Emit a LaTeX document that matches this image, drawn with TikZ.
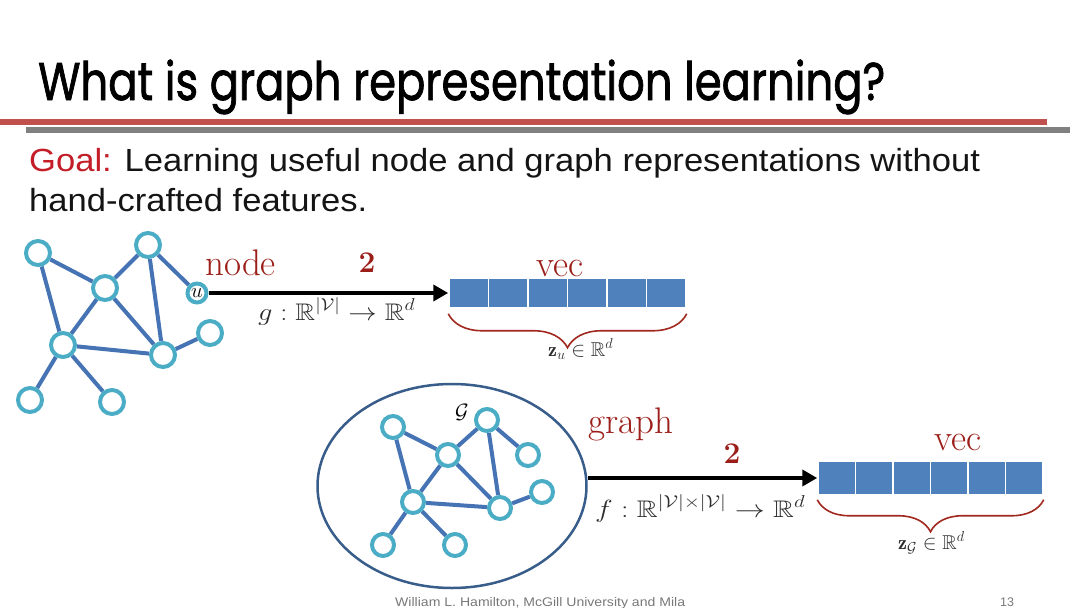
\documentclass[tikz,border=0pt]{standalone}
\usepackage{fontspec}
\usepackage{amsmath,amssymb}
\usepackage{graphicx}
\newfontfamily\titlefont[FakeBold=1.6]{Poppins}
\newfontfamily\arialfont{Liberation Sans}
\usetikzlibrary{arrows.meta,shapes.geometric,decorations.pathreplacing,backgrounds}
\definecolor{barred}{RGB}{192,80,77}
\definecolor{bargray}{RGB}{128,128,128}
\definecolor{goalred}{RGB}{195,30,40}
\definecolor{labred}{RGB}{155,30,25}
\definecolor{ringteal}{RGB}{75,172,198}
\definecolor{edgeblue}{RGB}{70,115,180}
\definecolor{vecblue}{RGB}{79,129,189}
\definecolor{ellblue}{RGB}{56,93,138}
\definecolor{bracered}{RGB}{160,40,30}
\definecolor{mathgray}{RGB}{45,45,45}
\definecolor{footgray}{RGB}{120,120,120}
\definecolor{goaltext}{RGB}{20,20,20}
\tikzset{
  gnode/.style={circle, draw=ringteal, line width=4pt, fill=white, minimum size=24pt, inner sep=0pt},
  gnodesm/.style={gnode, minimum size=22pt},
  gedge/.style={draw=edgeblue, line width=4pt},
  cellA/.style={rectangle, fill=vecblue, draw=white, line width=1.5pt, minimum width=39.5pt, minimum height=30pt, inner sep=0pt},
  cellB/.style={cellA, minimum width=37.5pt, minimum height=34pt},
  bigarrow/.style={draw=black, line width=4.5pt, -{Triangle[length=15pt,width=16pt]}},
  redlab/.style={text=labred, inner sep=0pt, font=\fontsize{37}{40}\selectfont},
  twolab/.style={text=labred, inner sep=0pt, font=\fontsize{30}{34}\selectfont\bfseries},
  mathlab/.style={text=mathgray, inner sep=0pt},
  curly/.style={draw=bracered, line width=1.6pt, decorate},
  txt/.style={inner sep=0pt, anchor=base west}
}
\begin{document}
\begin{tikzpicture}[x=1pt, y=-1pt]
\useasboundingbox (0,0) rectangle (1080,608);
% title
\node[txt] (title) at (38,100) {\resizebox{847pt}{\height}{\titlefont\fontsize{53}{60}\selectfont What is graph representation learning?}};
\fill[barred] (0,119) rectangle (1047,125);
\fill[bargray] (26,127) rectangle (1070,133);
% goal text
\node[txt, text=goaltext] (goal1) at (29,171) {\resizebox{951pt}{\height}{\arialfont\fontsize{32}{36}\selectfont\textcolor{goalred}{Goal:} Learning useful node and graph representations without}};
\node[txt, text=goaltext] (goal2) at (29,211) {\resizebox{338pt}{\height}{\arialfont\fontsize{32}{36}\selectfont hand-crafted features.}};
% graph 1
\node[gnode] (n1) at (38,253) {};
\node[gnode] (n2) at (148,245) {};
\node[gnode] (n3) at (105,288) {};
\node[gnode, minimum size=19pt] (u) at (197,293) {\fontsize{20}{22}\selectfont$u$};
\node[gnode] (n5) at (63,345) {};
\node[gnode] (n6) at (163,355) {};
\node[gnode] (n7) at (210,333) {};
\node[gnode] (n8) at (30,400) {};
\node[gnode] (n9) at (112,402) {};
\begin{scope}[on background layer]
\draw[gedge] (n1) -- (n3); \draw[gedge] (n2) -- (n3); \draw[gedge] (n2) -- (u);
\draw[gedge] (n2) -- (n6); \draw[gedge] (n3) -- (n5); \draw[gedge] (n3) -- (n6);
\draw[gedge] (n1) -- (n5); \draw[gedge] (n5) -- (n6); \draw[gedge] (n6) -- (n7);
\draw[gedge] (n5) -- (n8); \draw[gedge] (n5) -- (n9);
\end{scope}
% vector 1
\foreach \i in {1,...,6} {
  \node[cellA] (a\i) at ({449+19.75+(\i-1)*39.5},293) {};
}
\draw[bigarrow] (u) -- (a1.west);
\node[redlab, anchor=base west] (nodelab) at (205,275) {node};
\node[twolab, anchor=base] (two1) at (367,272) {2};
\node[redlab, anchor=base] (vec1) at (560,276) {vec};
\node[mathlab, anchor=base west] (gmap) at (258,320) {\resizebox{157pt}{\height}{\fontsize{24}{28}\selectfont$g:\mathbb{R}^{|\mathcal{V}|}\rightarrow\mathbb{R}^d$}};
\draw[curly, decoration={brace, mirror, amplitude=34pt}] ([yshift=-5pt]a1.south west) -- ([yshift=-5pt]a6.south east);
\node[mathlab, anchor=base west] (zu) at (548,356) {\fontsize{20}{24}\selectfont$\mathbf{z}_u\in\mathbb{R}^d$};
% graph 2
\node[ellipse, draw=ellblue, line width=2.5pt, minimum width=269pt, minimum height=204pt, inner sep=0pt] (ell) at (452,486) {};
\node[gnodesm] (m1) at (393,427) {};
\node[gnodesm] (m2) at (487,420) {};
\node[gnodesm] (m3) at (448,455) {};
\node[gnodesm] (m4) at (528,455) {};
\node[gnodesm] (m5) at (413,502) {};
\node[gnodesm] (m6) at (500,508) {};
\node[gnodesm] (m7) at (542,492) {};
\node[gnodesm] (m8) at (383,545) {};
\node[gnodesm] (m9) at (455,545) {};
\begin{scope}[on background layer]
\draw[gedge] (m1) -- (m3); \draw[gedge] (m2) -- (m3); \draw[gedge] (m2) -- (m4);
\draw[gedge] (m2) -- (m6); \draw[gedge] (m3) -- (m5); \draw[gedge] (m3) -- (m6);
\draw[gedge] (m1) -- (m5); \draw[gedge] (m5) -- (m6); \draw[gedge] (m6) -- (m7);
\draw[gedge] (m5) -- (m8); \draw[gedge] (m5) -- (m9);
\end{scope}
\node[inner sep=0pt] (glab) at (462,412) {\fontsize{22}{24}\selectfont$\mathcal{G}$};
% vector 2
\foreach \i in {1,...,6} {
  \node[cellB] (b\i) at ({818+18.75+(\i-1)*37.5},478) {};
}
\draw[bigarrow] (ell.east |- b1.west) -- (b1.west);
\node[redlab, anchor=base west] (graphlab) at (588,433) {graph};
\node[twolab, anchor=base] (two2) at (732,463) {2};
\node[redlab, anchor=base] (vec2) at (958,450) {vec};
\node[mathlab, anchor=base west] (fmap) at (595,517) {\resizebox{210pt}{\height}{\fontsize{24}{28}\selectfont$f:\mathbb{R}^{|\mathcal{V}|\times|\mathcal{V}|}\rightarrow\mathbb{R}^d$}};
\draw[curly, decoration={brace, mirror, amplitude=32pt}] ([yshift=-4pt]b1.south west) -- ([yshift=-4pt]b6.south east);
\node[mathlab, anchor=base west] (zg) at (898,549) {\fontsize{20}{24}\selectfont$\mathbf{z}_{\mathcal{G}}\in\mathbb{R}^d$};
% footer
\node[txt, text=footgray] (foot) at (395,606) {\resizebox{290pt}{\height}{\arialfont\fontsize{12.5}{14}\selectfont William L. Hamilton, McGill University and Mila}};
\node[txt, text=footgray] (page) at (1000,606) {\arialfont\fontsize{12.5}{14}\selectfont 13};
\end{tikzpicture}
\end{document}
